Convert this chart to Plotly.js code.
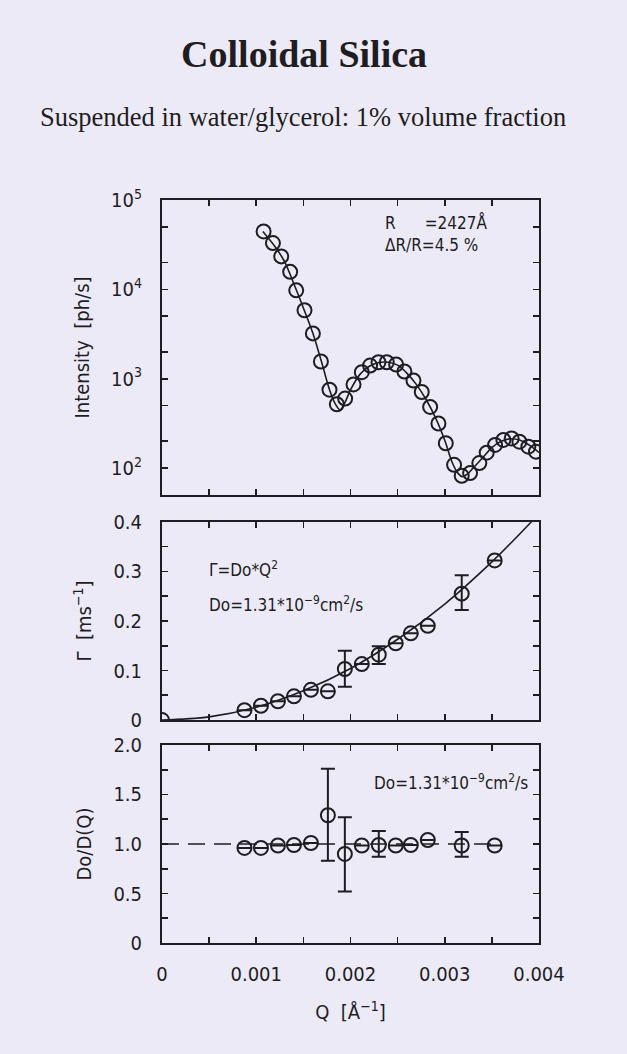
<!DOCTYPE html>
<html>
<head>
<meta charset="utf-8">
<script src="https://cdn.plot.ly/plotly-3.0.1.min.js"></script>
<style>
  html, body { margin: 0; padding: 0; background: #ebeaf6; }
  #chart { width: 627px; height: 1054px; }
</style>
</head>
<body>
<div id="chart"></div>
<script>
// ---------- Data ----------
// Panel 1: SAXS intensity vs Q
const saxsQ = [0.001078, 0.001177, 0.001265, 0.001360, 0.001424, 0.001512, 0.001601, 0.001686,
  0.001777, 0.001855, 0.001943, 0.002032, 0.002120, 0.002208, 0.002297, 0.002385, 0.002484,
  0.002572, 0.002668, 0.002756, 0.002845, 0.002933, 0.003011, 0.003099, 0.003180, 0.003269,
  0.003367, 0.003445, 0.003534, 0.003622, 0.003710, 0.003792, 0.003887, 0.003968];
const saxsIntensity = [44500, 33000, 23400, 15700, 9750, 5840, 3220, 1560,
  755, 519, 600, 865, 1186, 1406, 1531, 1531, 1443,
  1206, 957, 711, 484, 316, 190, 109, 82, 88,
  114, 149, 182, 207, 215, 198, 174, 153];
// fitted form-factor curve (R = 2427 Å, ΔR/R = 4.5 %)
const saxsFitQ = [0.00107, 0.00120, 0.00130, 0.00140, 0.00150, 0.00160, 0.00170, 0.00178, 0.00184,
  0.00189, 0.00194, 0.00200, 0.00210, 0.00220, 0.00230, 0.00240, 0.00250, 0.00260, 0.00270,
  0.00280, 0.00290, 0.00300, 0.00308, 0.00314, 0.00319, 0.00324, 0.00330, 0.00340, 0.00350,
  0.00360, 0.00370, 0.00380, 0.00390, 0.00400];
const saxsFitIntensity = [44500, 30000, 20500, 11500, 6200, 3250, 1450, 740, 520,
  450, 540, 750, 1120, 1380, 1520, 1530, 1420, 1150, 860,
  590, 370, 205, 115, 88, 80, 86, 100, 130, 170,
  200, 213, 205, 180, 150];

// Panels 2 & 3: XPCS relaxation rates
const dynQ = [0.000875, 0.00105, 0.00123, 0.00140, 0.00158, 0.00176, 0.00194, 0.00212,
  0.00230, 0.00248, 0.00264, 0.00282, 0.00318, 0.00353];
const gammaVals = [0.020, 0.029, 0.038, 0.048, 0.061, 0.058, 0.103, 0.113,
  0.132, 0.155, 0.175, 0.190, 0.255, 0.322];
const gammaErrPlus  = [null, null, null, null, null, null, 0.037, null, 0.017, null, null, null, 0.037, null];
const gammaErrMinus = [null, null, null, null, null, null, 0.036, null, 0.019, null, null, null, 0.033, null];
const gammaOriginQ = [0];
const gammaOriginVal = [0];
// fit Γ = Do·Q²
const gammaFitQ = [0, 0.0005, 0.0010, 0.0015, 0.0020, 0.0025, 0.0030, 0.0035, 0.00392];
const gammaFitVals = [0, 0.0065, 0.026, 0.059, 0.104, 0.163, 0.234, 0.319, 0.400];

const ratioVals = [0.96, 0.96, 0.985, 0.99, 1.01, 1.29, 0.90, 0.985,
  0.99, 0.985, 0.99, 1.04, 0.985, 0.985];
const ratioErrPlus  = [null, null, null, null, null, 0.47, 0.37, null, 0.14, null, null, null, 0.135, null];
const ratioErrMinus = [null, null, null, null, null, 0.46, 0.38, null, 0.12, null, null, null, 0.115, null];
const ratioRefQ = [0, 0.0036];
const ratioRefVals = [1, 1];

// Tick labels
const xTickVals = [0, 0.001, 0.002, 0.003, 0.004];
const xTickText = ['0', '0.001', '0.002', '0.003', '0.004'];
const logTickVals = [100, 1000, 10000, 100000];
const logTickText = ['10<sup>2</sup>', '10<sup>3</sup>', '10<sup>4</sup>', '10<sup>5</sup>'];
const logMinorTickVals = [200, 500, 2000, 5000, 20000, 50000];
const gammaTickVals = [0, 0.1, 0.2, 0.3, 0.4];
const gammaTickText = ['0', '0.1', '0.2', '0.3', '0.4'];
const ratioTickVals = [0, 0.5, 1.0, 1.5, 2.0];
const ratioTickText = ['0', '0.5', '1.0', '1.5', '2.0'];

// ---------- Styling ----------
const INK = '#1f1d22';
const BG = '#ebeaf6';
const PLOTFONT = '"Liberation Sans Narrow", "DejaVu Sans Condensed", "Arial Narrow", sans-serif';
const SERIF = '"Liberation Serif", "Times New Roman", serif';

const markerStyle = { symbol: 'circle-open', size: 14, color: INK, line: { color: INK, width: 2 } };
const errStyle = { color: INK, thickness: 2, width: 7 };
const minorTick = { ticks: 'inside', ticklen: 6, tickwidth: 1.6, tickcolor: INK };

const traces = [
  { x: saxsFitQ, y: saxsFitIntensity, xaxis: 'x', yaxis: 'y', mode: 'lines',
    line: { color: INK, width: 1.6, shape: 'spline' }, showlegend: false, hoverinfo: 'skip' },
  { x: saxsQ, y: saxsIntensity, xaxis: 'x', yaxis: 'y', mode: 'markers',
    marker: markerStyle, showlegend: false },

  { x: gammaFitQ, y: gammaFitVals, xaxis: 'x2', yaxis: 'y2', mode: 'lines',
    line: { color: INK, width: 1.6, shape: 'spline' }, showlegend: false, hoverinfo: 'skip' },
  { x: gammaOriginQ, y: gammaOriginVal, xaxis: 'x2', yaxis: 'y2', mode: 'markers',
    marker: markerStyle, showlegend: false },
  { x: dynQ, y: gammaVals, xaxis: 'x2', yaxis: 'y2', mode: 'markers',
    marker: markerStyle, showlegend: false,
    error_y: Object.assign({ type: 'data', symmetric: false, array: gammaErrPlus, arrayminus: gammaErrMinus }, errStyle) },

  { x: ratioRefQ, y: ratioRefVals, xaxis: 'x3', yaxis: 'y3', mode: 'lines',
    line: { color: INK, width: 1.6, dash: '17px,9px' }, showlegend: false, hoverinfo: 'skip' },
  { x: dynQ, y: ratioVals, xaxis: 'x3', yaxis: 'y3', mode: 'markers',
    marker: markerStyle, showlegend: false,
    error_y: Object.assign({ type: 'data', symmetric: false, array: ratioErrPlus, arrayminus: ratioErrMinus }, errStyle) }
];

function xAxis(anchor, showLabels) {
  return {
    anchor: anchor, domain: [0, 1], range: [0, 0.004],
    tickmode: 'array', tickvals: xTickVals, ticktext: xTickText, showticklabels: showLabels,
    ticks: 'inside', ticklen: 6, tickwidth: 1.6, tickcolor: INK,
    minor: Object.assign({ dtick: 0.0005, tick0: 0 }, minorTick),
    showline: true, linecolor: INK, linewidth: 2, mirror: 'ticks',
    showgrid: false, zeroline: false, ticklabelstandoff: 12,
    tickfont: { family: PLOTFONT, size: 20, color: INK }
  };
}
function yAxisBase(domain, anchor) {
  return {
    anchor: anchor, domain: domain, tickmode: 'array',
    ticks: 'inside', ticklen: 6, tickwidth: 1.6, tickcolor: INK,
    showline: true, linecolor: INK, linewidth: 2, mirror: 'ticks',
    showgrid: false, zeroline: false, ticklabelstandoff: 14,
    tickfont: { family: PLOTFONT, size: 20, color: INK },
    title: { font: { family: PLOTFONT, size: 20, color: INK }, standoff: 16 }
  };
}

const x1 = xAxis('y', false);
const x2 = xAxis('y2', false); x2.matches = 'x';
const x3 = xAxis('y3', true); x3.matches = 'x';
x3.title = { text: 'Q  [Å<sup>−1</sup>]', font: { family: PLOTFONT, size: 20, color: INK }, standoff: 20 };

const y1 = yAxisBase([0.603, 1.0], 'x');
Object.assign(y1, { type: 'log', range: [1.70, 5.0], tickvals: logTickVals, ticktext: logTickText,
  minor: Object.assign({ tickmode: 'array', tickvals: logMinorTickVals }, minorTick) });
y1.title.text = 'Intensity  [ph/s]';

const y2 = yAxisBase([0.300, 0.567], 'x2');
Object.assign(y2, { range: [0, 0.4], tickvals: gammaTickVals, ticktext: gammaTickText,
  minor: Object.assign({ dtick: 0.05, tick0: 0 }, minorTick) });
y2.title.text = 'Γ  [ms<sup>−1</sup>]';

const y3 = yAxisBase([0, 0.2665], 'x3');
Object.assign(y3, { range: [0, 2.0], tickvals: ratioTickVals, ticktext: ratioTickText,
  minor: Object.assign({ dtick: 0.25, tick0: 0 }, minorTick) });
y3.title.text = 'Do/D(Q)';

const annFont = { family: PLOTFONT, size: 17, color: INK };
const layout = {
  width: 627, height: 1054,
  margin: { l: 162, r: 88, t: 200, b: 111 },
  paper_bgcolor: BG, plot_bgcolor: BG,
  showlegend: false,
  title: { text: '<b>Colloidal Silica</b>', x: 0.485, xanchor: 'center', y: 0.949, yanchor: 'middle',
    font: { family: SERIF, size: 38, color: INK } },
  xaxis: x1, xaxis2: x2, xaxis3: x3,
  yaxis: y1, yaxis2: y2, yaxis3: y3,
  annotations: [
    { text: 'Suspended in water/glycerol: 1% volume fraction', xref: 'paper', yref: 'paper',
      x: 0.374, y: 1.112, xanchor: 'center', yanchor: 'middle', showarrow: false,
      font: { family: SERIF, size: 26.5, color: INK } },
    { text: 'R      =2427Å<br>ΔR/R=4.5 %', xref: 'x', yref: 'y domain', x: 0.00235, y: 0.885,
      xanchor: 'left', yanchor: 'middle', align: 'left', showarrow: false, font: annFont },
    { text: 'Γ=Do*Q<sup>2</sup>', xref: 'x2', yref: 'y2', x: 0.00048, y: 0.305,
      xanchor: 'left', yanchor: 'middle', showarrow: false, font: annFont },
    { text: 'Do=1.31*10<sup>−9</sup>cm<sup>2</sup>/s', xref: 'x2', yref: 'y2', x: 0.00048, y: 0.235,
      xanchor: 'left', yanchor: 'middle', showarrow: false, font: annFont },
    { text: 'Do=1.31*10<sup>−9</sup>cm<sup>2</sup>/s', xref: 'x3', yref: 'y3', x: 0.00223, y: 1.63,
      xanchor: 'left', yanchor: 'middle', showarrow: false, font: annFont }
  ]
};

Plotly.newPlot('chart', traces, layout, { displayModeBar: false, staticPlot: true });
</script>
</body>
</html>
